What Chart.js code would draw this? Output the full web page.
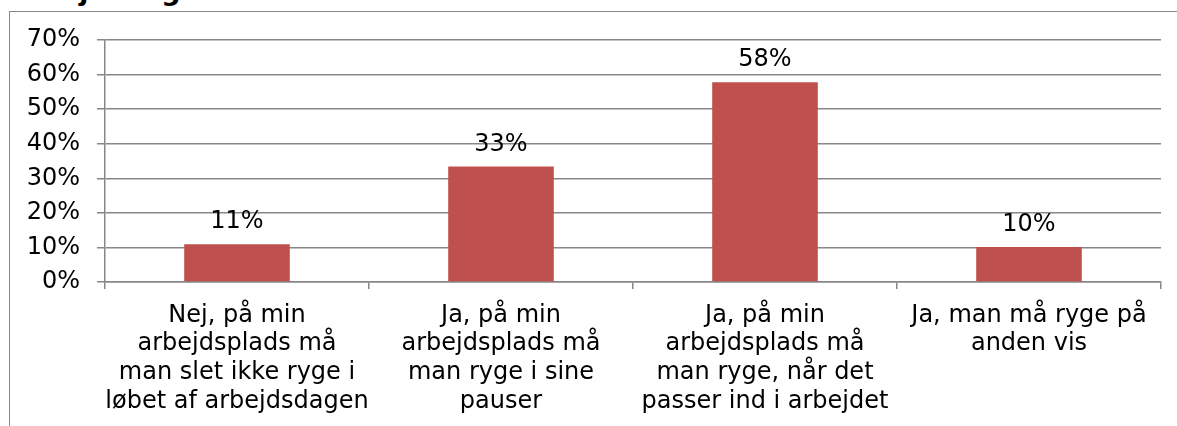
<!DOCTYPE html>
<html>
<head>
<meta charset="utf-8">
<script src="https://cdn.jsdelivr.net/npm/chart.js@4/dist/chart.umd.min.js"></script>
<style>
    html, body { margin: 0; padding: 0; background: #fff; overflow: hidden; }
    #wrap { position: relative; width: 1177px; height: 426px; }
    #frame { position: absolute; left: 9px; top: 11px; width: 1300px; height: 600px; border: 1.5px solid #878787; }
    #title { position: absolute; left: 10px; top: -23px; font: bold 27px 'DejaVu Sans'; line-height: 27px; color: #000; white-space: nowrap; }
    #chart { position: absolute; left: 0; top: 0; }
</style>
</head>
<body>
<div id="wrap">
    <div id="title">arbejdsdagen</div>
    <div id="frame"></div>
    <canvas id="chart" width="1177" height="426"></canvas>
</div>
<script>
var aCategories = [
    ['Nej, på min', 'arbejdsplads må', 'man slet ikke ryge i', 'løbet af arbejdsdagen'],
    ['Ja, på min', 'arbejdsplads må', 'man ryge i sine', 'pauser'],
    ['Ja, på min', 'arbejdsplads må', 'man ryge, når det', 'passer ind i arbejdet'],
    ['Ja, man må ryge på', 'anden vis']
];
var aValues = [10.9, 33.4, 57.8, 10.1];
var aTickLabels = ['0%', '10%', '20%', '30%', '40%', '50%', '60%', '70%'];

var sFont = 'DejaVu Sans';
var sGrid = '#878787';

var oLabels = {
    id: 'barLabels',
    afterDatasetsDraw: function (chart) {
        var ctx = chart.ctx;
        var meta = chart.getDatasetMeta(0);
        ctx.save();
        ctx.font = '24px ' + sFont;
        ctx.fillStyle = '#000';
        ctx.textAlign = 'center';
        ctx.textBaseline = 'alphabetic';
        meta.data.forEach(function (bar, i) {
            ctx.fillText(Math.round(aValues[i]) + '%', bar.x, bar.y - 16);
        });
        ctx.restore();
    }
};

new Chart(document.getElementById('chart').getContext('2d'), {
    type: 'bar',
    data: {
        labels: aCategories,
        datasets: [{
            data: aValues,
            backgroundColor: '#C0504D',
            barPercentage: 0.4,
            categoryPercentage: 1.0
        }]
    },
    plugins: [oLabels],
    options: {
        responsive: false,
        animation: false,
        events: [],
        layout: { padding: { left: 0, right: 16, top: 40, bottom: 0 } },
        plugins: {
            legend: { display: false },
            tooltip: { enabled: false },
            title: { display: false }
        },
        scales: {
            x: {
                afterFit: function (scale) { scale.height = 144; },
                grid: { drawOnChartArea: false, drawTicks: true, tickLength: 7, offset: true, color: sGrid, lineWidth: 1.5 },
                border: { display: true, color: sGrid, width: 1.5 },
                ticks: { color: '#000', padding: 12, maxRotation: 0, autoSkip: false, font: { family: sFont, size: 24, lineHeight: 1.2 } }
            },
            y: {
                min: 0,
                max: 70,
                afterFit: function (scale) { scale.width = 105; },
                grid: { color: sGrid, lineWidth: 1.5, drawTicks: true, tickLength: 8 },
                border: { display: true, color: sGrid, width: 1.5 },
                ticks: {
                    stepSize: 10,
                    color: '#000',
                    padding: 17,
                    font: { family: sFont, size: 24 },
                    callback: function (v) { return aTickLabels[Math.round(v / 10)]; }
                }
            }
        }
    }
});
</script>
</body>
</html>
